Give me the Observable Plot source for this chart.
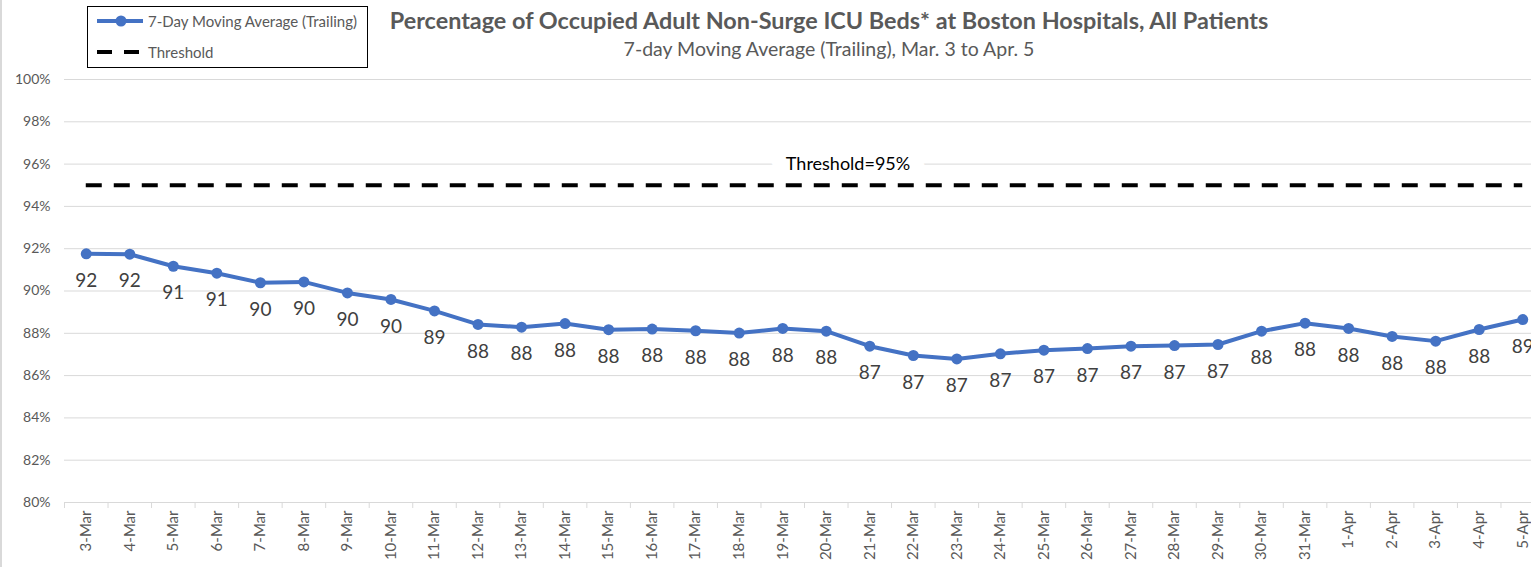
<!DOCTYPE html>
<html>
<head>
<meta charset="utf-8">
<script src="https://cdn.jsdelivr.net/npm/d3@7"></script>
<script src="https://cdn.jsdelivr.net/npm/@observablehq/plot@0.6"></script>
<style>
  html, body { margin: 0; padding: 0; background: #fff; overflow: hidden; }
  #wrap { position: relative; width: 1531px; height: 567px; font-family: Lato, "Open Sans", sans-serif; }
  #chart { position: absolute; left: 0; top: 0; }
  #frame { position: absolute; left: 0; top: 0; width: 2px; height: 567px; background: #d9d9d9; }
  .title { position: absolute; left: 0; width: 1658px; text-align: center; color: #595959; white-space: nowrap; }
  #t1 { top: 6px; font-size: 23.4px; font-weight: bold; }
  #t2 { top: 37px; font-size: 19.5px; }
  #legend { position: absolute; left: 87px; top: 6px; width: 279px; height: 60px; border: 1px solid #000; background: #fff; }
  .lrow { position: absolute; left: 8px; display: flex; align-items: center; font-size: 15px; color: #595959; }
  .lrow svg { margin-right: 4px; }
</style>
</head>
<body>
<div id="wrap">
  <div id="chart"></div>
  <div id="frame"></div>
  <div class="title" id="t1"></div>
  <div class="title" id="t2"></div>
  <div id="legend"></div>
</div>
<script>
const dates = ["3-Mar","4-Mar","5-Mar","6-Mar","7-Mar","8-Mar","9-Mar","10-Mar","11-Mar","12-Mar",
  "13-Mar","14-Mar","15-Mar","16-Mar","17-Mar","18-Mar","19-Mar","20-Mar","21-Mar","22-Mar",
  "23-Mar","24-Mar","25-Mar","26-Mar","27-Mar","28-Mar","29-Mar","30-Mar","31-Mar","1-Apr",
  "2-Apr","3-Apr","4-Apr","5-Apr"];
const values = [91.76,91.74,91.17,90.84,90.39,90.43,89.91,89.60,89.06,88.42,
  88.29,88.46,88.17,88.20,88.12,88.01,88.23,88.10,87.39,86.95,
  86.79,87.03,87.20,87.28,87.39,87.42,87.47,88.10,88.48,88.23,
  87.85,87.63,88.18,88.65];
const threshold = 95;
const yTicks = [80,82,84,86,88,90,92,94,96,98,100];
const titleText = "Percentage of Occupied Adult Non-Surge ICU Beds* at Boston Hospitals, All Patients";
const subtitleText = "7-day Moving Average (Trailing), Mar. 3 to Apr. 5";
const seriesName = "7-Day Moving Average (Trailing)";
const thresholdName = "Threshold";
const thresholdLabel = "Threshold=95%";

const blue = "#4472C4";
const idx = dates.map((d, i) => i);
const rows = values.map((v, i) => ({i, v}));

const chart = Plot.plot({
  width: 1531,
  height: 567,
  marginTop: 79,
  marginBottom: 65,
  marginLeft: 64,
  marginRight: -13,
  x: {type: "linear", domain: [-0.5, dates.length - 0.5]},
  y: {domain: [80, 100]},
  style: {fontFamily: "Lato, 'Open Sans', sans-serif", background: "transparent"},
  marks: [
    Plot.gridY(yTicks, {stroke: "#d9d9d9", strokeOpacity: 1, strokeWidth: 1}),
    Plot.axisY(yTicks, {tickSize: 0, tickPadding: 14, tickFormat: d => d + "%", fontSize: 14, fill: "#595959", label: null}),
    Plot.axisX(idx, {tickSize: 0, tickPadding: 8, tickRotate: -90, tickFormat: i => dates[i], fontSize: 15, fill: "#595959", label: null}),
    Plot.axisX(d3.range(dates.length + 1).map(i => i - 0.5), {tickSize: 6, tickFormat: () => "", stroke: "#d9d9d9", label: null}),
    Plot.text([thresholdLabel], {x: 17.5, y: 96, text: d => d, fontSize: 18, fill: "#000", stroke: "white", strokeWidth: 30, strokeLinejoin: "round", paintOrder: "stroke"}),
    Plot.ruleY([threshold], {x1: 0, x2: dates.length - 1, stroke: "#000", strokeWidth: 4, strokeDasharray: "16,12"}),
    Plot.line(rows, {x: "i", y: "v", stroke: blue, strokeWidth: 4}),
    Plot.dot(rows, {x: "i", y: "v", fill: blue, r: 5.5}),
    Plot.text(rows, {x: "i", y: "v", text: d => Math.round(d.v), dy: 27, fontSize: 19, fill: "#404040"})
  ]
});
document.getElementById("chart").appendChild(chart);
document.getElementById("t1").textContent = titleText;
document.getElementById("t2").textContent = subtitleText;

const legend = document.getElementById("legend");
legend.innerHTML = `
  <div class="lrow" style="top:4px">
    <svg width="48" height="20"><line x1="1" y1="10" x2="47" y2="10" stroke="${blue}" stroke-width="4"/><circle cx="25" cy="10" r="5.5" fill="${blue}"/></svg>
    <span>${seriesName}</span>
  </div>
  <div class="lrow" style="top:35px">
    <svg width="48" height="20"><line x1="1" y1="10" x2="47" y2="10" stroke="#000" stroke-width="4" stroke-dasharray="15,12"/></svg>
    <span>${thresholdName}</span>
  </div>`;
</script>
</body>
</html>
